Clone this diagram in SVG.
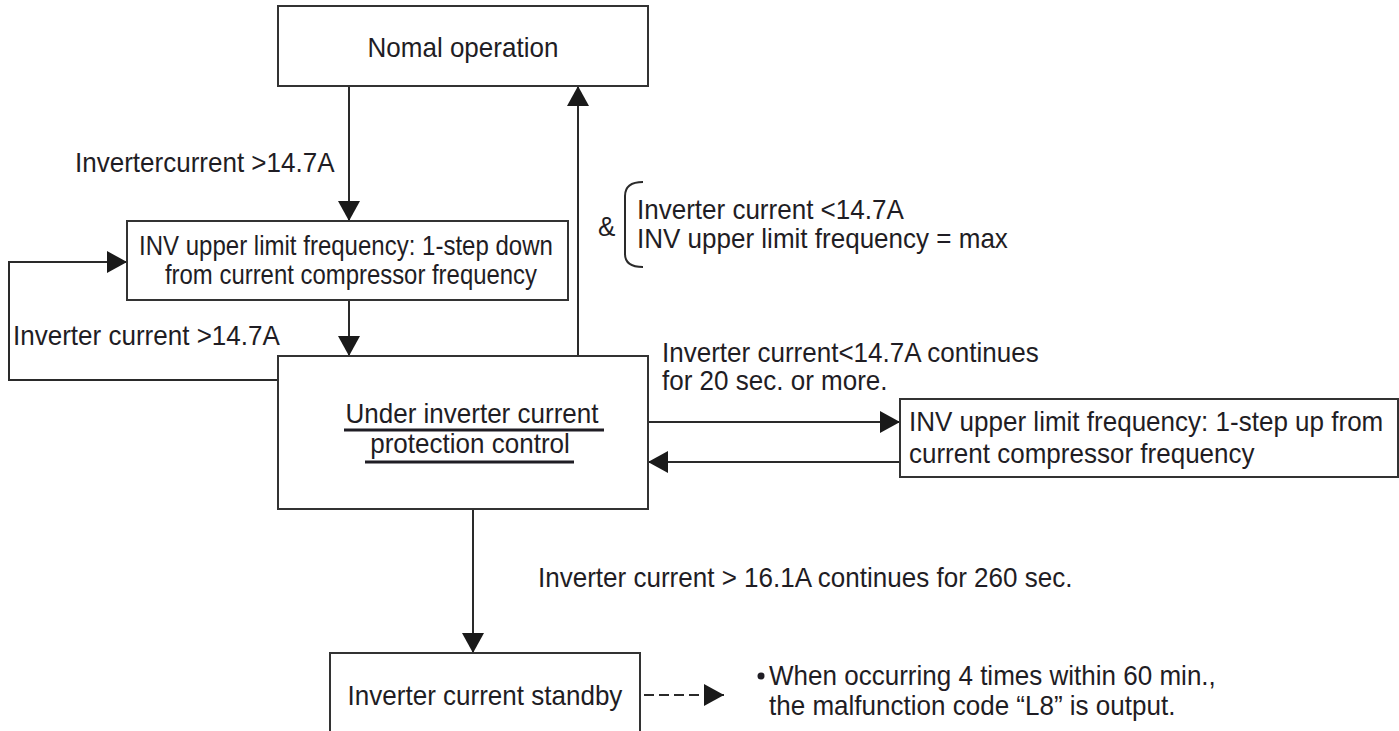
<svg xmlns="http://www.w3.org/2000/svg" width="1399" height="731" viewBox="0 0 1399 731">
<defs>
<style>
text{font-family:"Liberation Sans",Arial,sans-serif;font-size:28px;fill:#1f1d24}
.box{fill:#fff;stroke:#333;stroke-width:2}
.ln{fill:none;stroke:#2a2a2a;stroke-width:2}
.ul{stroke:#1f1d24;stroke-width:3}
.c{text-anchor:middle}
</style>
<marker id="ah" viewBox="0 0 20 22" refX="20" refY="11" markerWidth="20" markerHeight="22" markerUnits="userSpaceOnUse" orient="auto">
<path d="M0,0 L20,11 L0,22 Z" fill="#1a1a1a"/>
</marker>
</defs>
<rect width="1399" height="731" fill="#fff"/>
<g id="connectors">
<line class="ln" x1="349" y1="86" x2="349" y2="221" marker-end="url(#ah)"/>
<line class="ln" x1="349" y1="300" x2="349" y2="356" marker-end="url(#ah)"/>
<polyline class="ln" points="278,380 9,380 9,262 127,262" marker-end="url(#ah)"/>
<line class="ln" x1="578" y1="356" x2="578" y2="86" marker-end="url(#ah)"/>
<line class="ln" x1="648" y1="422" x2="900" y2="422" marker-end="url(#ah)"/>
<line class="ln" x1="900" y1="462" x2="648" y2="462" marker-end="url(#ah)"/>
<line class="ln" x1="473" y1="509" x2="473" y2="653" marker-end="url(#ah)"/>
<line class="ln" x1="644" y1="695" x2="724" y2="695" stroke-dasharray="10 5" marker-end="url(#ah)"/>
<text transform="scale(0.93 1)" x="80.6" y="172">Invertercurrent &gt;14.7A</text>
<text transform="scale(0.93 1)" x="14" y="345">Inverter current &gt;14.7A</text>
<text transform="scale(0.93 1)" x="643" y="236">&amp;</text>
<path class="ln" d="M643,182 Q625,182 625,196 L625,254 Q625,267 643,267"/>
<text transform="scale(0.93 1)" x="684.9" y="219">Inverter current &lt;14.7A</text>
<text transform="scale(0.93 1)" x="684.9" y="248">INV upper limit frequency = max</text>
<text transform="scale(0.93 1)" x="711.8" y="362">Inverter current&lt;14.7A continues</text>
<text transform="scale(0.93 1)" x="711.8" y="390">for 20 sec. or more.</text>
<text transform="scale(0.93 1)" x="578.5" y="587">Inverter current &gt; 16.1A continues for 260 sec.</text>
</g>
<g id="normal">
<rect class="box" x="278" y="6" width="370" height="80"/>
<text class="c" transform="scale(0.93 1)" x="497.8" y="57">Nomal operation</text>
</g>
<g id="stepdown">
<rect class="box" x="127" y="221" width="441" height="79"/>
<text transform="scale(0.93 1)" x="149.5" y="255" textLength="445" lengthAdjust="spacingAndGlyphs">INV upper limit frequency: 1-step down</text>
<text transform="scale(0.93 1)" x="177.4" y="284" textLength="400" lengthAdjust="spacingAndGlyphs">from current compressor frequency</text>
</g>
<g id="protection">
<rect class="box" x="278" y="356" width="370" height="153"/>
<text class="c" transform="scale(0.93 1)" x="507.5" y="423">Under inverter current</text>
<line class="ul" x1="344" y1="430" x2="604" y2="430"/>
<text class="c" transform="scale(0.93 1)" x="505.4" y="453">protection control</text>
<line class="ul" x1="365" y1="462" x2="574" y2="462"/>
</g>
<g id="stepup">
<rect class="box" x="900" y="399" width="498" height="78"/>
<text transform="scale(0.93 1)" x="977.4" y="431">INV upper limit frequency: 1-step up from</text>
<text transform="scale(0.93 1)" x="977.4" y="463">current compressor frequency</text>
</g>
<g id="standby">
<rect class="box" x="330" y="653" width="310" height="90"/>
<text class="c" transform="scale(0.93 1)" x="521.5" y="705">Inverter current standby</text>
</g>
<g id="note">
<circle cx="761" cy="676" r="3.5" fill="#1f1d24"/>
<text transform="scale(0.93 1)" x="826.9" y="685">When occurring 4 times within 60 min.,</text>
<text transform="scale(0.93 1)" x="826.9" y="715">the malfunction code “L8” is output.</text>
</g>
</svg>
